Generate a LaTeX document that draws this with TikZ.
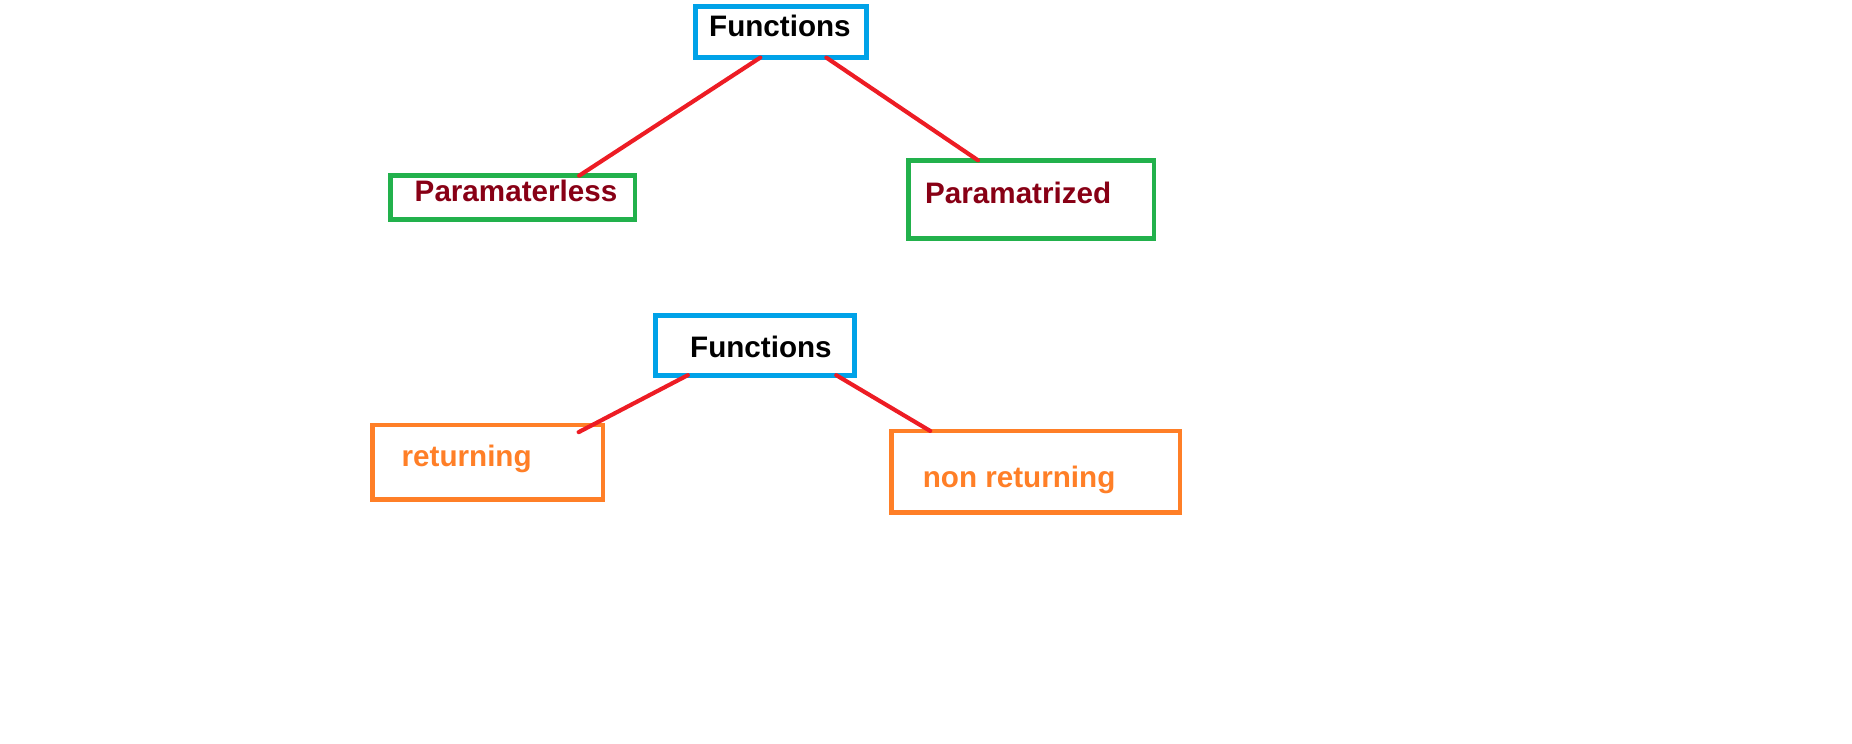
\documentclass[tikz,border=0pt]{standalone}
\usepackage{fontspec}
\setmainfont{Liberation Sans}
\usetikzlibrary{calc}
\definecolor{boxblue}{HTML}{00A2E8}
\definecolor{boxgreen}{HTML}{22B14C}
\definecolor{boxorange}{HTML}{FF7F27}
\definecolor{linkred}{HTML}{ED1C24}
\definecolor{darkred}{HTML}{880015}
\tikzset{
	box/.style={draw, line width=0.08cm, minimum width=#1, inner sep=0pt, outer sep=0pt},
	txt/.style={anchor=base west, inner sep=0pt, font=\fontsize{14.2}{16}\selectfont\bfseries},
	link/.style={linkred, line width=0.07cm, line cap=round}
}

\begin{document}
\begin{tikzpicture}[x=0.02cm, y=-0.02cm]
	\useasboundingbox (0,0) rectangle (1560,626);
	% first tree
	\node[box=2.88cm, boxblue, minimum height=0.86cm] (fun1) at (658,27) {};
	\node[box=4.12cm, boxgreen, minimum height=0.74cm] (pless) at (432,166.5) {};
	\node[box=4.14cm, boxgreen, minimum height=1.32cm] (pzed) at (868.5,168) {};
	\node[txt] (fun1t) at (597,31) {Functions};
	\node[txt, darkred] (plesst) at (349,170) {Paramaterless};
	\node[txt, darkred] (pzedt) at (779,171) {Paramatrized};
	\draw[link] ($(fun1.south west)!0.378!(fun1.south east)$) -- ($(pless.north west)!0.771!(pless.north east)$);
	\draw[link] ($(fun1.south west)!0.764!(fun1.south east)$) -- ($(pzed.north west)!0.284!(pzed.north east)$);
	% second tree
	\node[box=3.36cm, boxblue, minimum height=1.0cm] (fun2) at (636,291) {};
	\node[box=3.88cm, boxorange, minimum height=1.26cm] (ret) at (411,389.5) {};
	\node[box=4.86cm, boxorange, minimum height=1.38cm] (nret) at (872.5,397.5) {};
	\node[txt] (fun2t) at (581,301) {Functions};
	\node[txt, boxorange] (rett) at (338,393) {returning};
	\node[txt, boxorange] (nrett) at (777,411) {non returning};
	\draw[link] ($(fun2.south west)!0.163!(fun2.south east)$) -- ([yshift=-0.12cm]$(ret.north west)!0.894!(ret.north east)$);
	\draw[link] ($(fun2.south west)!0.907!(fun2.south east)$) -- ($(nret.north west)!0.134!(nret.north east)$);
\end{tikzpicture}
\end{document}
